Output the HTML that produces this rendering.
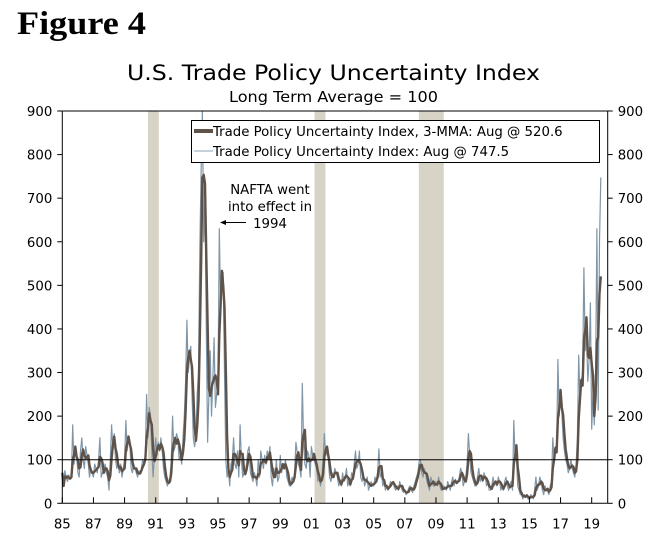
<!DOCTYPE html>
<html><head><meta charset="utf-8"><style>
body{margin:0;background:#fff;width:665px;height:543px;overflow:hidden}
svg{display:block}
text{font-family:"DejaVu Sans","Liberation Sans",sans-serif;fill:#000}
</style></head><body>
<svg id="chart" width="665" height="543" viewBox="0 0 665 543">
<text x="17" y="34" textLength="129" lengthAdjust="spacingAndGlyphs" style="font-family:'Liberation Serif',serif;font-weight:bold;font-size:33px">Figure 4</text>
<text x="127" y="80" textLength="413" lengthAdjust="spacingAndGlyphs" style="font-family:'DejaVu Sans',sans-serif;font-size:21px">U.S. Trade Policy Uncertainty Index</text>
<text x="229" y="102" textLength="209" lengthAdjust="spacingAndGlyphs" style="font-family:'DejaVu Sans',sans-serif;font-size:15px">Long Term Average = 100</text>
<g id="rec"></g><g id="series"></g><g id="axes"></g>
<g>
<rect x="191.5" y="120.5" width="408" height="42" fill="#fff" stroke="#000" stroke-width="1"/>
<line x1="194" y1="131" x2="213" y2="131" stroke="#5e5249" stroke-width="4"/>
<text x="213" y="136" font-size="13.3">Trade Policy Uncertainty Index, 3-MMA: Aug @ 520.6</text>
<line x1="194" y1="151" x2="213" y2="151" stroke="#8fa3b3" stroke-width="1"/>
<text x="213" y="156" font-size="13.3">Trade Policy Uncertainty Index: Aug @ 747.5</text>
</g>
<g font-size="13.3">
<text x="270" y="194" text-anchor="middle">NAFTA went</text>
<text x="270" y="211" text-anchor="middle">into effect in</text>
<text x="270" y="228" text-anchor="middle">1994</text>
<line x1="246" y1="222.5" x2="225" y2="222.5" stroke="#000" stroke-width="1"/>
<polygon points="220,222.5 226,220 226,225" fill="#000"/>
</g>
</svg>
<script>
const years=[1985,1986,1987,1988,1989,1990,1991,1992,1993,1994,1995,1996,1997,1998,1999,2000,2001,2002,2003,2004,2005,2006,2007,2008,2009,2010,2011,2012,2013,2014,2015,2016,2017,2018,2019];
const rawIndex=[
70,40,75,60,50,65,55,60,180,90,120,110,
70,60,120,150,100,80,130,110,90,60,80,70,
60,90,80,70,100,150,60,70,80,90,70,60,
30,100,180,120,160,100,80,90,70,90,60,80,
100,190,120,150,140,80,70,90,80,70,60,75,
70,80,100,90,110,250,150,220,200,120,60,110,
150,110,140,120,150,120,80,60,50,40,50,60,
100,200,120,130,160,150,100,110,90,150,200,280,
420,300,330,360,250,150,130,150,250,300,580,760,
900,600,700,400,140,250,350,200,280,380,220,250,
280,630,450,520,530,300,100,60,80,40,90,100,
150,90,80,120,60,180,100,60,70,70,90,120,
130,70,60,50,70,60,40,100,60,120,100,80,
110,90,120,100,130,60,40,80,60,100,50,60,
110,70,90,80,100,60,50,40,40,60,50,70,
140,120,90,80,60,275,140,90,80,120,110,60,
130,110,100,90,80,50,60,40,60,100,160,110,
120,100,60,50,70,60,80,70,60,40,50,40,
70,50,60,80,40,50,40,70,60,90,120,80,
90,120,60,50,70,40,50,60,30,40,50,40,
40,60,50,70,125,60,70,40,50,30,40,30,
40,50,45,50,35,30,40,30,50,40,30,25,
30,20,25,35,40,30,25,40,50,60,70,95,
100,70,60,80,70,50,40,30,60,50,40,40,
50,40,60,40,30,30,40,35,30,50,40,30,
50,60,40,55,45,50,60,80,70,40,50,60,
90,160,110,70,60,50,40,40,60,80,50,60,
50,70,60,40,50,30,30,40,60,40,50,40,
60,50,30,40,30,50,60,40,30,40,50,30,
190,100,110,40,30,20,20,10,20,15,20,10,
10,20,15,10,30,60,30,40,60,50,30,20,
40,30,30,20,40,50,150,100,130,120,330,200,
250,210,150,120,100,90,70,80,100,80,70,60,
90,150,340,230,280,300,540,350,390,280,330,460,
170,250,180,300,630,214,600,747.5];
const recessions=[[1990.5,1991.2],[2001.2,2001.9],[2007.9,2009.5]];
const yTicks=[0,100,200,300,400,500,600,700,800,900];
const xLabels=["85","87","89","91","93","95","97","99","01","03","05","07","09","11","13","15","17","19"];

const NS="http://www.w3.org/2000/svg";
const L=62.3,R=607.7,T=111,B=503.3;
const xS=t=>62.3+(t-1985)*15.57;
const yS=v=>B-(v/900)*(B-T);
function mk(tag,attrs,parent){const e=document.createElementNS(NS,tag);for(const k in attrs)e.setAttribute(k,attrs[k]);parent.appendChild(e);return e;}
const rec=document.getElementById('rec'),ser=document.getElementById('series'),ax=document.getElementById('axes');
recessions.forEach((r,i)=>{
 const e=mk('rect',{x:xS(r[0]),y:T,width:xS(r[1])-xS(r[0]),height:B-T,fill:'#d8d3c7'},rec);
 
 
});
const t0=years[0];
const tm=i=>t0+i/12;
const mma=rawIndex.map((v,i)=>i<2?v:(rawIndex[i]+rawIndex[i-1]+rawIndex[i-2])/3);
let p1=rawIndex.map((v,i)=>xS(tm(i)).toFixed(1)+','+yS(v).toFixed(1)).join(' ');
const rl=mk('polyline',{points:p1,fill:'none',stroke:'#7f96a8','stroke-width':1.2,'stroke-linejoin':'round'},ser);


let p2=mma.map((v,i)=>xS(tm(i)).toFixed(1)+','+yS(v).toFixed(1)).join(' ');
const ml=mk('polyline',{points:p2,fill:'none',stroke:'#5e5249','stroke-width':2.4,'stroke-linejoin':'round'},ser);


mk('line',{x1:L,y1:yS(100),x2:R,y2:yS(100),stroke:'#000','stroke-width':1},ax);
mk('line',{x1:L,y1:T,x2:L,y2:B,stroke:'#000','stroke-width':1},ax);
mk('line',{x1:R,y1:T,x2:R,y2:B,stroke:'#000','stroke-width':1},ax);
mk('line',{x1:L,y1:T,x2:R,y2:T,stroke:'#000','stroke-width':1},ax);
mk('line',{x1:L,y1:B,x2:R,y2:B,stroke:'#000','stroke-width':1},ax);
yTicks.forEach(v=>{
 const y=yS(v);
 mk('line',{x1:L-5,y1:y,x2:L,y2:y,stroke:'#000'},ax);
 mk('line',{x1:R,y1:y,x2:R+5,y2:y,stroke:'#000'},ax);
 const a=mk('text',{x:L-10,y:y+5,'text-anchor':'end','font-size':'13.3'},ax);a.textContent=v;
 
 
 const b=mk('text',{x:R+10,y:y+5,'font-size':'13.3'},ax);b.textContent=v;
 
 
});
xLabels.forEach((s,i)=>{
 const yr=1985+2*i, x=xS(yr);
 mk('line',{x1:x,y1:B-6,x2:x,y2:B,stroke:'#000'},ax);
 const t=mk('text',{x:x,y:B+25,'text-anchor':'middle','font-size':'13.3'},ax);t.textContent=s;
 
 
});
</script>
</body></html>
